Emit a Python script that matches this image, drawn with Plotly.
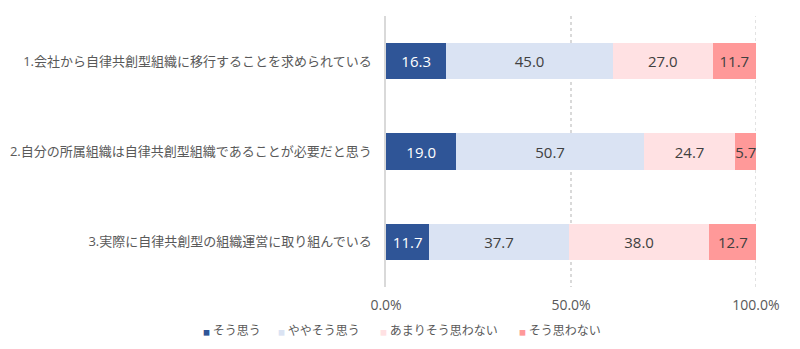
import plotly.graph_objects as go

categories = [
    "1.会社から自律共創型組織に移行することを求められている",
    "2.自分の所属組織は自律共創型組織であることが必要だと思う",
    "3.実際に自律共創型の組織運営に取り組んでいる",
]
series_names = ["そう思う", "ややそう思う", "あまりそう思わない", "そう思わない"]
values_sou = [16.3, 19.0, 11.7]
values_yaya = [45.0, 50.7, 37.7]
values_amari = [27.0, 24.7, 38.0]
values_not = [11.7, 5.7, 12.7]
tick_vals = [0, 50, 100]
tick_text = ["0.0%", "50.0%", "100.0%"]

colors = ["#2F5597", "#DAE3F3", "#FFE1E3", "#FF9999"]
text_colors = ["#FFFFFF", "#404040", "#404040", "#404040"]
FONT = "Open Sans, Noto Sans CJK JP"
JFONT = "Noto Sans CJK JP"
GRID = "#D9D9D9"

L, R, T, B = 386, 44, 16, 62
PW = 800 - L - R

fig = go.Figure()
for name, vals, c, tc in zip(series_names, [values_sou, values_yaya, values_amari, values_not], colors, text_colors):
    fig.add_trace(go.Bar(
        y=categories, x=vals, name=name, orientation="h",
        marker=dict(color=c, line=dict(width=0)),
        text=[f"{v:.1f}" for v in vals], textposition="inside", textangle=0,
        insidetextanchor="middle", constraintext="none",
        textfont=dict(color=tc, size=15, family=FONT),
        width=0.4, hoverinfo="skip", showlegend=False,
    ))

# legend drawn as text entries below the axis
legend_px = [201, 276, 378, 517]
for name, c, px in zip(series_names, colors, legend_px):
    fig.add_annotation(
        xref="paper", yref="paper", x=(px - L) / PW, y=-(329 - (349 - B)) / (349 - T - B),
        xanchor="left", yanchor="middle", showarrow=False,
        text=f'<span style="color:{c};font-size:7px">■</span> {name}',
        font=dict(family=JFONT, size=12, color="#595959"),
    )

# gridline at the right end of the axis (plotly drops gridlines at range edges)
fig.add_shape(type="line", xref="x", yref="paper", x0=tick_vals[-1], x1=tick_vals[-1], y0=0, y1=1,
              line=dict(color=GRID, width=1.5, dash="3px,3px"), layer="below")

fig.update_layout(
    barmode="stack",
    width=800, height=349,
    margin=dict(l=L, r=R, t=T, b=B, autoexpand=False),
    paper_bgcolor="white", plot_bgcolor="white",
    font=dict(family=JFONT, size=13, color="#595959"),
    uniformtext=dict(minsize=15, mode="show"),
    showlegend=False,
)
fig.update_xaxes(range=[0, 100], tickvals=tick_vals, ticktext=tick_text,
                 showgrid=True, gridcolor=GRID, griddash="3px,3px", gridwidth=1.5,
                 zeroline=False, showline=False, ticks="", ticklabelstandoff=8,
                 tickfont=dict(size=14, color="#595959", family=FONT), fixedrange=True)
fig.update_yaxes(autorange="reversed", showline=True, linecolor=GRID, linewidth=1.5,
                 ticks="", ticklabelstandoff=10, tickfont=dict(size=13, color="#595959", family=FONT),
                 showgrid=False)

fig.write_html("out.html")
